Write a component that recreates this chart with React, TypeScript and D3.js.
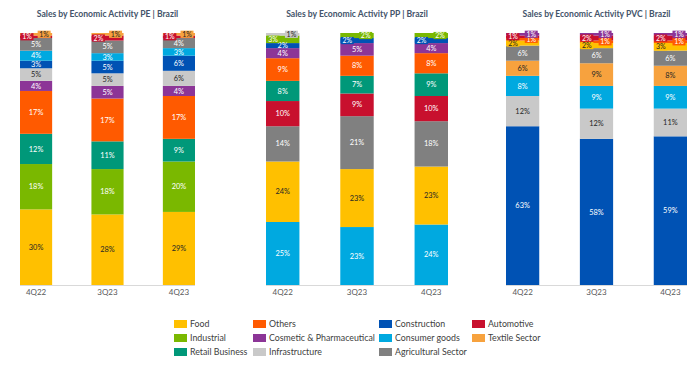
import React from "react";
import * as d3 from "d3";

const quarters = ["4Q22", "3Q23", "4Q23"];

const colors: Record<string, string> = {
  Food: "#ffc000",
  Industrial: "#7ab800",
  "Retail Business": "#009879",
  Others: "#ff5a00",
  "Cosmetic & Pharmaceutical": "#8c3597",
  Infrastructure: "#c9c9c9",
  Construction: "#0052b4",
  "Consumer goods": "#00a9e0",
  "Agricultural Sector": "#808080",
  Automotive: "#c8102e",
  "Textile Sector": "#f7a23e",
};

const darkText = new Set(["Food", "Infrastructure", "Textile Sector"]);

// stack order bottom -> top, values per quarter
const peOrder = ["Food", "Industrial", "Retail Business", "Others", "Cosmetic & Pharmaceutical", "Infrastructure", "Construction", "Consumer goods", "Agricultural Sector", "Automotive", "Textile Sector"];
const peValues = [[30, 28, 29], [18, 18, 20], [12, 11, 9], [17, 17, 17], [4, 5, 4], [5, 5, 6], [3, 5, 6], [4, 3, 3], [5, 5, 4], [1, 2, 1], [1, 1, 1]];

const ppOrder = ["Consumer goods", "Food", "Agricultural Sector", "Automotive", "Retail Business", "Others", "Cosmetic & Pharmaceutical", "Construction", "Industrial", "Infrastructure"];
const ppValues = [[25, 23, 24], [24, 23, 23], [14, 21, 18], [10, 9, 10], [8, 7, 9], [9, 8, 8], [4, 5, 4], [2, 2, 2], [3, 2, 2], [1, 0, 0]];

const pvcOrder = ["Construction", "Infrastructure", "Consumer goods", "Textile Sector", "Agricultural Sector", "Food", "Others", "Automotive", "Cosmetic & Pharmaceutical"];
const pvcValues = [[63, 58, 59], [12, 12, 11], [8, 9, 9], [6, 9, 8], [6, 6, 6], [2, 2, 3], [1, 1, 1], [1, 2, 2], [1, 1, 1]];

const legendColumns = [
  ["Food", "Industrial", "Retail Business"],
  ["Others", "Cosmetic & Pharmaceutical", "Infrastructure"],
  ["Construction", "Consumer goods", "Agricultural Sector"],
  ["Automotive", "Textile Sector"],
];

const panels = [
  { title: "Sales by Economic Activity PE | Brazil", x0: 20, x1: 195, order: peOrder, values: peValues },
  { title: "Sales by Economic Activity PP | Brazil", x0: 266, x1: 448, order: ppOrder, values: ppValues },
  { title: "Sales by Economic Activity PVC | Brazil", x0: 506, x1: 687, order: pvcOrder, values: pvcValues },
];

const FONT = "Lato, 'Open Sans', sans-serif";
const baseY = 285;
const topY = 33;

const Panel: React.FC<{ p: (typeof panels)[number] }> = ({ p }) => {
  const x = d3.scaleBand<string>().domain(quarters).range([p.x0, p.x1]).paddingInner(0.55).paddingOuter(0);
  const y = d3.scaleLinear().domain([0, 100]).range([baseY, topY]);
  const bw = x.bandwidth();

  return (
    <g>
      <text x={(p.x0 + p.x1) / 2} y={17} textAnchor="middle" fontSize={8.6} fontWeight="bold" fill="#44546a" fontFamily={FONT}>
        {p.title}
      </text>
      {quarters.map((q, qi) => {
        const x0 = x(q)!;
        let acc = 0;
        const segs = p.order.map((name, si) => {
          const v = p.values[si][qi];
          const s = { name, v, lo: acc, hi: acc + v };
          acc += v;
          return s;
        });
        // tiny segments at the top get offset box labels, alternating right/left
        const boxSide: Record<number, string> = {};
        let k = 0;
        for (let i = segs.length - 1; i >= 0; i--) {
          if (segs[i].v === 0) continue;
          if (segs[i].v > 3) break;
          boxSide[i] = k % 2 === 0 ? "right" : "left";
          k++;
          if (segs[i].v === 3) break;
        }
        return (
          <g key={q}>
            {segs.map((s) =>
              s.v > 0 ? (
                <rect key={s.name} x={x0} y={y(s.hi)} width={bw} height={y(s.lo) - y(s.hi)} fill={colors[s.name]} />
              ) : null
            )}
            {segs.map((s, i) => {
              if (s.v === 0) return null;
              const cy = y((s.lo + s.hi) / 2);
              const fill = darkText.has(s.name) ? "#262626" : "#ffffff";
              const side = boxSide[i];
              if (side) {
                const cx = side === "left" ? x0 + 7 : x0 + bw - 8;
                return (
                  <g key={s.name}>
                    <rect x={cx - 6.5} y={cy - 3.6} width={13} height={7.2} fill={colors[s.name]} />
                    <text x={cx} y={cy + 2.5} textAnchor="middle" fontSize={7} fill={fill} fontFamily={FONT}>
                      {s.v}%
                    </text>
                  </g>
                );
              }
              return (
                <text key={s.name} x={x0 + bw / 2} y={cy + 2.6} textAnchor="middle" fontSize={7.4} fill={fill} fontFamily={FONT}>
                  {s.v}%
                </text>
              );
            })}
            <text x={x0 + bw / 2} y={295} textAnchor="middle" fontSize={8} fill="#595959" fontFamily={FONT}>
              {q}
            </text>
          </g>
        );
      })}
      <line x1={p.x0} x2={p.x1} y1={baseY + 0.5} y2={baseY + 0.5} stroke="#d9d9d9" strokeWidth={1} />
    </g>
  );
};

const App: React.FC = () => {
  const colX = [174, 253, 379, 472];
  const rowY = d3.scalePoint<number>().domain([0, 1, 2]).range([324, 352]);
  return (
    <svg width={698} height={368} style={{ position: "absolute", left: 0, top: 0, background: "#fff" }}>
      <rect width={698} height={368} fill="#fff" />
      {panels.map((p) => (
        <Panel key={p.title} p={p} />
      ))}
      {legendColumns.map((col, ci) =>
        col.map((name, ri) => (
          <g key={name}>
            <rect x={colX[ci]} y={rowY(ri)! - 4} width={13} height={8} fill={colors[name]} />
            <text x={colX[ci] + 16} y={rowY(ri)! + 3} fontSize={8.8} fill="#404040" fontFamily={FONT}>
              {name}
            </text>
          </g>
        ))
      )}
    </svg>
  );
};

export default App;
